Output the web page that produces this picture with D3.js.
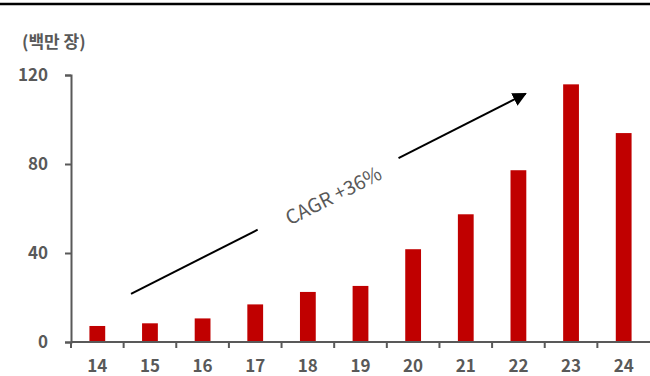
<!DOCTYPE html>
<html>
<head>
<meta charset="utf-8">
<script src="https://cdn.jsdelivr.net/npm/d3@7"></script>
<style>
  html, body { margin: 0; padding: 0; background: #fff; }
  svg { display: block; }
  text { font-family: "Noto Sans CJK KR", "Noto Sans", sans-serif; }
</style>
</head>
<body>
<svg id="chart" width="650" height="376"></svg>
<script>
// Annual volume (million units), 2014–2024
const years = ["14", "15", "16", "17", "18", "19", "20", "21", "22", "23", "24"];
const volumes = [7.2, 8.4, 10.6, 16.9, 22.5, 25.2, 41.7, 57.4, 77.2, 115.8, 93.9];
const yTicks = [0, 40, 80, 120];
const unitLabel = "(백만 장)";
const cagrLabel = "CAGR +36%";
// Trend arrow runs from the 2015 slot up to the 2023 slot (value space)
const arrowFrom = { year: "15", value: 21.6 };
const arrowTo = { year: "23", value: 112 };

const svg = d3.select("#chart");
const W = 650, H = 376;
const plotLeft = 71, plotRight = 650, plotTop = 75, plotBottom = 342;
const grey = "#595959";
const red = "#C00000";

// Heavy rule across the top
svg.append("line")
  .attr("x1", 0).attr("x2", W).attr("y1", 4).attr("y2", 4)
  .attr("stroke", "#000").attr("stroke-width", 2.5);

const x = d3.scaleBand().domain(years).range([plotLeft, plotRight])
  .paddingInner(0.7).paddingOuter(0.35);
const y = d3.scaleLinear().domain([0, 120]).range([plotBottom, plotTop]);

// Bars
svg.append("g").selectAll("rect").data(years).join("rect")
  .attr("x", d => x(d))
  .attr("width", x.bandwidth())
  .attr("y", (d, i) => y(volumes[i]))
  .attr("height", (d, i) => y(0) - y(volumes[i]))
  .attr("fill", red);

// Y axis
const yAxis = svg.append("g")
  .attr("transform", `translate(${plotLeft},0)`)
  .call(d3.axisLeft(y).tickValues(yTicks).tickSize(6).tickSizeOuter(6).tickPadding(17));
yAxis.selectAll("path, line").attr("stroke", grey).attr("stroke-width", 2);
yAxis.selectAll("text")
  .attr("fill", grey).attr("font-size", 17).attr("font-weight", "bold")
  .attr("font-family", "'Noto Sans CJK KR', 'Noto Sans', sans-serif");

// X axis: baseline, ticks at slot boundaries, labels at slot centres
const xAxis = svg.append("g");
xAxis.append("line")
  .attr("x1", plotLeft).attr("x2", plotRight).attr("y1", plotBottom).attr("y2", plotBottom)
  .attr("stroke", grey).attr("stroke-width", 2);
const slotStart = d => x(d) - x.step() * x.paddingOuter();
xAxis.selectAll("line.tick").data(years).join("line")
  .attr("class", "tick")
  .attr("x1", d => slotStart(d)).attr("x2", d => slotStart(d))
  .attr("y1", plotBottom).attr("y2", plotBottom + 6)
  .attr("stroke", grey).attr("stroke-width", 2);
xAxis.selectAll("text").data(years).join("text")
  .attr("x", d => x(d) + x.bandwidth() / 2)
  .attr("y", 372)
  .attr("text-anchor", "middle")
  .attr("fill", grey).attr("font-size", 17).attr("font-weight", "bold")
  .text(d => d);

// Unit label
svg.append("text")
  .attr("x", 22).attr("y", 48)
  .attr("fill", grey).attr("font-size", 17).attr("font-weight", "bold")
  .text(unitLabel);

// CAGR trend arrow with a gap for its label
const defs = svg.append("defs");
defs.append("marker")
  .attr("id", "arrowhead")
  .attr("viewBox", "0 0 10 10")
  .attr("refX", 9).attr("refY", 5)
  .attr("markerWidth", 7).attr("markerHeight", 7)
  .attr("markerUnits", "strokeWidth")
  .attr("orient", "auto")
  .append("path").attr("d", "M0,0 L10,5 L0,10 Z").attr("fill", "#000");

const x0 = x(arrowFrom.year) - x.step() * 0.21, y0 = y(arrowFrom.value);
const x1 = x(arrowTo.year) - x.step() * 0.68, y1 = y(arrowTo.value);
const dx = x1 - x0, dy = y1 - y0;
const len = Math.hypot(dx, dy);
const ux = dx / len, uy = dy / len;
const gapStart = 142, gapEnd = 300;

svg.append("line")
  .attr("x1", x0).attr("y1", y0)
  .attr("x2", x0 + ux * gapStart).attr("y2", y0 + uy * gapStart)
  .attr("stroke", "#000").attr("stroke-width", 2);
svg.append("line")
  .attr("x1", x0 + ux * gapEnd).attr("y1", y0 + uy * gapEnd)
  .attr("x2", x1 - ux * 2).attr("y2", y1 - uy * 2)
  .attr("stroke", "#000").attr("stroke-width", 2)
  .attr("marker-end", "url(#arrowhead)");

const angle = Math.atan2(dy, dx) * 180 / Math.PI;
const mid = (gapStart + gapEnd) / 2;
svg.append("text")
  .attr("transform", `translate(${x0 + ux * mid},${y0 + uy * mid}) rotate(${angle})`)
  .attr("x", 4).attr("y", 11)
  .attr("text-anchor", "middle")
  .attr("fill", grey).attr("font-size", 19.5)
  .text(cagrLabel);
</script>
</body>
</html>
